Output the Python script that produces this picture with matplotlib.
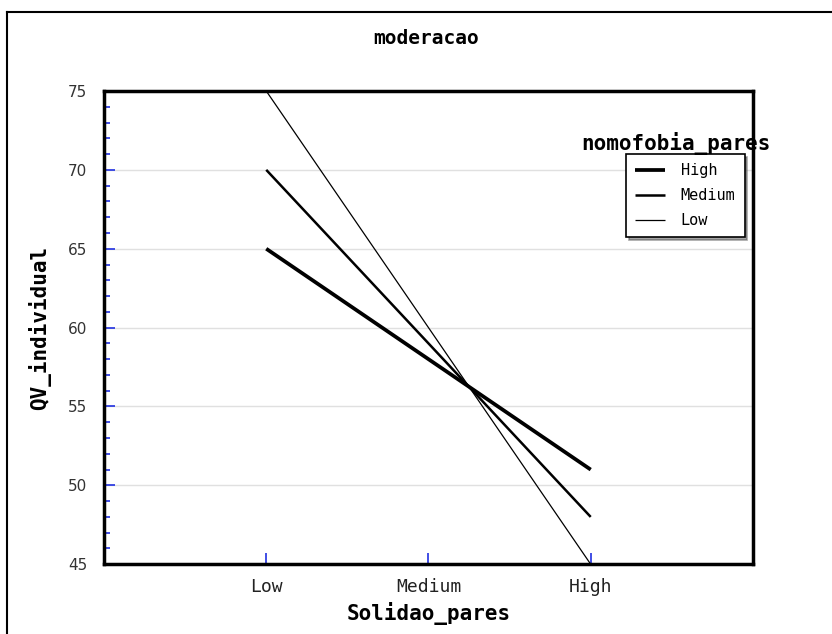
import numpy as np
import matplotlib.pyplot as plt
from matplotlib.lines import Line2D
from matplotlib.ticker import MultipleLocator

plt.rcParams['font.family'] = ['DejaVu Sans Mono']

x_labels = ['Low', 'Medium', 'High']
x_pos = [1, 2, 3]
groups = ['High', 'Medium', 'Low']
qv_high = [65, 51]
qv_medium = [70, 48]
qv_low = [75, 45]
widths = [2.7, 1.8, 0.9]

fig = plt.figure(figsize=(8.32, 6.34), dpi=100)
ax = fig.add_axes([0.125, 0.110, 0.780, 0.7465])

series = [qv_high, qv_medium, qv_low]
for name, vals, lw in zip(groups, series, widths):
    ax.plot([x_pos[0], x_pos[-1]], vals, color='black', lw=lw, label=name,
            solid_capstyle='butt')

ax.set_xlim(0, 4)
ax.set_ylim(45, 75)
ax.set_xticks(x_pos)
ax.set_xticklabels(x_labels, fontsize=13, color='#222222')
ax.yaxis.set_major_locator(MultipleLocator(5))
ax.yaxis.set_minor_locator(MultipleLocator(1))
ax.tick_params(axis='both', which='both', direction='in', color='#2030e0', width=1.2)
ax.tick_params(axis='y', which='major', length=8, pad=12)
ax.tick_params(axis='y', which='minor', length=4)
ax.tick_params(axis='x', length=8, pad=10)
for t in ax.get_yticklabels():
    t.set_fontfamily('DejaVu Sans')
    t.set_fontsize(11)
    t.set_color('#333333')
ax.grid(axis='y', color='#e0e0e0', lw=1)
ax.set_axisbelow(True)
for s in ax.spines.values():
    s.set_linewidth(2.5)

ax.set_xlabel('Solidao_pares', fontsize=15, fontweight='bold', labelpad=4)
ax.set_ylabel('QV_individual', fontsize=15, fontweight='bold', labelpad=12)
fig.text(0.512, 0.94, 'moderacao', ha='center', va='center', fontsize=14,
         fontweight='bold')

leg = ax.legend(loc='upper left', bbox_to_anchor=(0.804, 0.867), borderaxespad=0,
                fontsize=11, handlelength=2.0, shadow=True, fancybox=False,
                framealpha=1, edgecolor='black', borderpad=0.6, labelspacing=0.65,
                handletextpad=1.0)
leg.get_frame().set_linewidth(1.2)
fig.text(0.813, 0.774, 'nomofobia_pares', ha='center', va='center',
         fontsize=15, fontweight='bold')

# outer frame (left and top edges)
fig.add_artist(Line2D([0.0085, 0.0085], [0, 0.981], transform=fig.transFigure,
                      color='black', lw=1.5))
fig.add_artist(Line2D([0.0085, 1], [0.981, 0.981], transform=fig.transFigure,
                      color='black', lw=1.5))

plt.savefig('out.png')
